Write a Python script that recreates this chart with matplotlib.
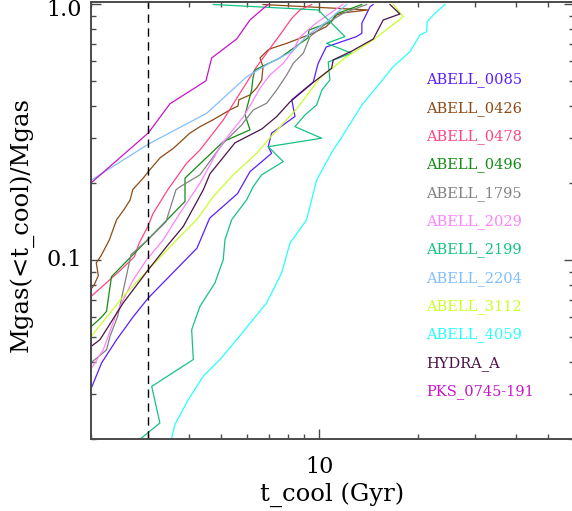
import matplotlib
matplotlib.use('Agg')
import matplotlib.pyplot as plt
from matplotlib.ticker import FixedLocator, FixedFormatter, NullFormatter
from matplotlib.transforms import ScaledTranslation, blended_transform_factory

plt.rcParams['font.family'] = 'DejaVu Serif'

# cluster names in plotting order
names = ['ABELL_0085', 'ABELL_0426', 'ABELL_0478', 'ABELL_0496', 'ABELL_1795',
         'ABELL_2029', 'ABELL_2199', 'ABELL_2204', 'ABELL_3112', 'ABELL_4059',
         'HYDRA_A', 'PKS_0745-191']

# t_cool (Gyr) and cumulative gas mass fraction for each cluster
t_a0085 = [2.0, 2.16, 2.40, 2.70, 3.0, 4.23, 4.62, 5.62, 6.14, 7.15, 6.98, 7.15,
           8.43, 8.24, 9.59, 9.91, 10.5, 13.0, 13.5, 13.5, 14.3, 14.6]
f_a0085 = [0.0312, 0.0397, 0.0489, 0.0602, 0.0712, 0.1116, 0.146, 0.182, 0.222,
           0.262, 0.278, 0.314, 0.365, 0.424, 0.498, 0.586, 0.682, 0.749, 0.772,
           0.845, 0.980, 1.0]

t_a0426 = [2.0, 2.05, 2.11, 2.08, 2.15, 2.28, 2.40, 2.53, 2.64, 2.69, 2.90, 3.0,
           3.26, 3.58, 4.02, 4.32, 4.73, 5.33, 5.64, 5.68, 6.14, 6.44, 6.67, 6.73,
           6.59, 6.97, 7.15, 7.95, 8.73, 9.57, 10.5, 11.0, 11.3, 11.8, 14.1, 6.73]
f_a0426 = [0.0767, 0.0802, 0.087, 0.0977, 0.104, 0.120, 0.144, 0.158, 0.172, 0.189,
           0.210, 0.222, 0.2515, 0.274, 0.314, 0.333, 0.354, 0.387, 0.401, 0.424,
           0.443, 0.472, 0.507, 0.572, 0.618, 0.664, 0.674, 0.705, 0.738, 0.772,
           0.819, 0.870, 0.910, 0.927, 0.952, 1.0]

t_a0478 = [2.0, 2.20, 2.475, 2.72, 2.815, 2.99, 3.10, 3.44, 3.93, 4.32, 5.09, 5.72,
           6.44, 7.58, 8.24, 8.73, 9.48]
f_a0478 = [0.072, 0.0802, 0.0918, 0.1032, 0.117, 0.1354, 0.152, 0.1885, 0.2396,
           0.270, 0.354, 0.450, 0.5715, 0.760, 0.883, 0.952, 1.0]

t_a0496 = [1.99, 2.15, 2.235, 2.315, 3.885, 3.885, 5.09, 6.14, 5.93, 6.21, 6.27,
           6.36, 7.58, 8.61, 9.24, 9.30, 10.86, 11.25, 13.5]
f_a0496 = [0.0545, 0.0596, 0.0631, 0.0862, 0.1697, 0.2095, 0.291, 0.3235, 0.370,
           0.463, 0.516, 0.555, 0.618, 0.695, 0.740, 0.795, 0.854, 0.918, 1.0]

t_a1795 = [2.004, 2.135, 2.237, 2.291, 2.418, 2.656, 2.987, 3.397, 3.646, 3.75,
           4.317, 5.086, 5.79, 6.284, 6.903, 7.409, 7.95, 8.329, 8.936, 9.368,
           10.53, 11.84, 13.96]
f_a1795 = [0.0398, 0.0424, 0.0447, 0.0504, 0.0603, 0.1051, 0.1202, 0.1413, 0.1885,
           0.1937, 0.2158, 0.287, 0.338, 0.387, 0.411, 0.463, 0.530, 0.589, 0.645,
           0.749, 0.845, 0.924, 1.0]

t_a2029 = [2.0, 2.185, 2.401, 2.699, 2.966, 3.333, 3.75, 4.317, 4.91, 5.086, 5.856,
           6.214, 6.587, 7.066, 7.761, 8.329, 8.73, 9.70, 10.94, 11.81]
f_a2029 = [0.0374, 0.0447, 0.0622, 0.0839, 0.1005, 0.1202, 0.1529, 0.2002, 0.270,
           0.290, 0.3635, 0.412, 0.471, 0.530, 0.589, 0.664, 0.746, 0.839, 0.935, 1.0]

t_a2199 = [2.79, 2.863, 3.256, 3.073, 4.119, 4.072, 4.317, 4.797, 5.086, 5.147,
           5.396, 5.998, 6.284, 6.667, 7.761, 6.982, 10.17, 8.429, 9.044, 9.818,
           10.19, 10.78, 10.65, 12.56, 10.53, 11.98, 9.93, 4.741]
f_a2199 = [0.0197, 0.0202, 0.0231, 0.0321, 0.0409, 0.0535, 0.0660, 0.0815, 0.1005,
           0.1202, 0.144, 0.1723, 0.1942, 0.2158, 0.243, 0.278, 0.300, 0.333, 0.370,
           0.405, 0.463, 0.507, 0.596, 0.645, 0.705, 0.749, 0.952, 1.0]

t_a2204 = [2.0, 3.01, 4.32, 4.53, 6.0, 7.07, 8.31, 9.15, 10.53, 12.13]
f_a2204 = [0.205, 0.285, 0.364, 0.376, 0.522, 0.591, 0.658, 0.753, 0.857, 1.0]

t_a3112 = [1.99, 2.515, 3.0, 3.664, 4.218, 4.741, 5.458, 6.436, 7.066, 8.53, 10.05,
           12.13, 14.63, 18.07, 16.84]
f_a3112 = [0.0497, 0.0722, 0.0918, 0.1202, 0.144, 0.1775, 0.2158, 0.262, 0.301,
           0.391, 0.516, 0.625, 0.727, 0.896, 1.0]

t_a4059 = [3.445, 3.536, 3.62, 3.976, 4.419, 4.969, 5.589, 6.903, 7.674, 8.138,
           9.152, 9.818, 11.03, 11.57, 13.51, 16.84, 18.94, 20.32, 21.3, 21.39,
           22.59, 24.23]
f_a4059 = [0.0182, 0.0202, 0.0228, 0.0285, 0.0352, 0.0409, 0.0489, 0.0681, 0.0891,
           0.1168, 0.144, 0.2062, 0.270, 0.2955, 0.405, 0.5715, 0.654, 0.760, 0.783,
           0.857, 0.924, 1.0]

t_hydra = [2.0, 2.135, 2.515, 3.0, 3.414, 3.838, 4.419, 4.631, 5.523, 6.681, 7.409,
           8.138, 9.587, 10.91, 11.03, 12.59, 14.63, 15.69, 17.65, 16.45]
f_hydra = [0.0459, 0.0489, 0.0681, 0.0918, 0.1132, 0.1355, 0.1885, 0.2177, 0.2877,
           0.3264, 0.3645, 0.416, 0.496, 0.563, 0.607, 0.658, 0.733, 0.870, 0.918, 1.0]

t_pks = [2.0, 3.004, 3.494, 4.503, 4.688, 5.589, 6.139, 6.967]
f_pks = [0.200, 0.315, 0.409, 0.503, 0.618, 0.733, 0.870, 1.0]

t_lists = [t_a0085, t_a0426, t_a0478, t_a0496, t_a1795, t_a2029, t_a2199,
           t_a2204, t_a3112, t_a4059, t_hydra, t_pks]
f_lists = [f_a0085, f_a0426, f_a0478, f_a0496, f_a1795, f_a2029, f_a2199,
           f_a2204, f_a3112, f_a4059, f_hydra, f_pks]

t_cut = 3.0  # vertical reference line (Gyr)

colors = ['#5a1eff', '#8c4b14', '#ff4682', '#148c14', '#828282', '#ff82ff',
          '#14c382', '#82bfff', '#c8ff28', '#28ffff', '#4b1446', '#c814c8']

W, H = 572, 511
fig = plt.figure(figsize=(W / 100, H / 100), dpi=100)
ax = fig.add_axes([90.7 / W, (H - 439) / H, 483 / W, 436.7 / H])

for t, f, c in zip(t_lists, f_lists, colors):
    ax.plot(t, f, color=c, lw=0.9)

ax.axvline(t_cut, color='black', lw=1.0, dashes=(6, 4))

ax.set_xscale('log')
ax.set_yscale('log')
ax.set_xlim(2, 60)
ax.set_ylim(0.02, 1.02)

ax.xaxis.set_major_locator(FixedLocator([10]))
ax.xaxis.set_major_formatter(FixedFormatter(['10']))
ax.xaxis.set_minor_locator(FixedLocator([2, 3, 4, 5, 6, 7, 8, 9, 20, 30, 40, 50]))
ax.xaxis.set_minor_formatter(NullFormatter())
ax.yaxis.set_major_locator(FixedLocator([0.1, 1.0]))
ax.yaxis.set_major_formatter(NullFormatter())
ax.yaxis.set_minor_locator(FixedLocator([0.02, 0.03, 0.04, 0.05, 0.06, 0.07, 0.08, 0.09,
                                         0.2, 0.3, 0.4, 0.5, 0.6, 0.7, 0.8, 0.9]))
ax.yaxis.set_minor_formatter(NullFormatter())

axis_col = '#4a4a4a'
ax.tick_params(which='both', direction='in', top=True, right=True,
               color=axis_col, width=1.0, labelcolor='black', labelsize=16)
ax.tick_params(which='major', length=7.2, pad=12)
ax.tick_params(which='minor', length=3.6)
for s in ax.spines.values():
    s.set_color(axis_col)
    s.set_linewidth(1.4)

# y tick labels drawn by hand so the top one stays inside the canvas
ytr = blended_transform_factory(ax.transAxes, ax.transData)
ax.text(-0.018, 1.0, '1.0', transform=ytr + ScaledTranslation(0, -6 / 100, fig.dpi_scale_trans),
        ha='right', va='center', fontsize=16)
ax.text(-0.018, 0.1, '0.1', transform=ytr, ha='right', va='center', fontsize=16)

fig.text(332 / W, 1 - 495 / H, 't_cool (Gyr)', ha='center', va='center', fontsize=17.5)
fig.text(21 / W, 1 - 225 / H, 'Mgas(<t_cool)/Mgas', ha='center', va='center',
         rotation=90, fontsize=17.5)

# cluster labels
for i, (n, c) in enumerate(zip(names, colors)):
    fig.text(426 / W, 1 - (80 + 28.33 * i) / H, n, color=c, ha='left', va='center',
             fontsize=10.5)

fig.savefig('out.png', dpi=100)
